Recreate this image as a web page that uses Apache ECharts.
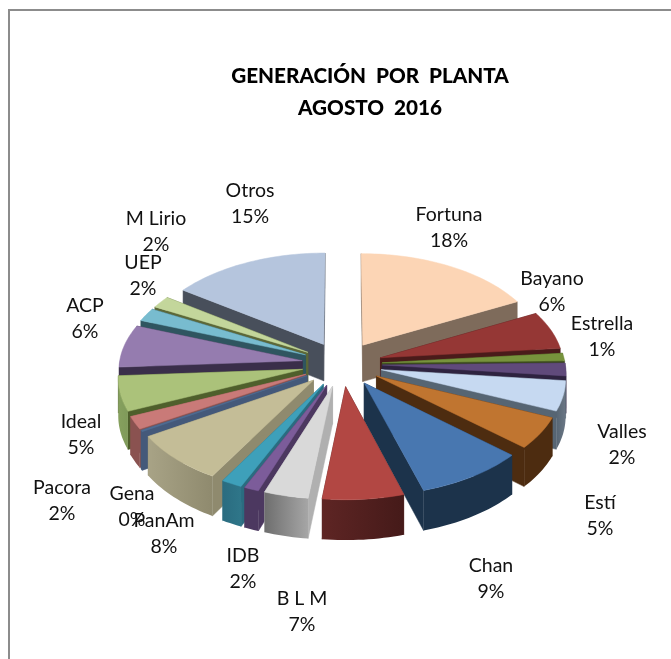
<!DOCTYPE html>
<html>
<head>
<meta charset="utf-8">
<style>html,body{margin:0;padding:0;background:#fff}#c{width:671px;height:659px}</style>
<script src="https://cdn.jsdelivr.net/npm/echarts@6/dist/echarts.min.js"></script>
</head>
<body>
<div id="c"></div>
<script>
// Data (percent share, clockwise from 12 o'clock)
const plants = ['Fortuna','Bayano','Estrella','Valles','(sin rótulo 1)','Estí','Chan','B L M','(sin rótulo 2)','IDB','(sin rótulo 3)','PanAm','Gena','Pacora','Ideal','ACP','UEP','M Lirio','Otros'];
const shares = [17.5,6,1.2,2,4.7,5,8.9,6.6,3.6,1.2,1.7,7.9,0.2,2,5.5,6.7,2.1,1.9,15.3];

const labelNames = ['Fortuna','Bayano','Estrella','Valles','Estí','Chan','B L M','IDB','PanAm','Gena','Pacora','Ideal','ACP','UEP','M Lirio','Otros'];
const labelPercents = ['18%','6%','1%','2%','5%','9%','7%','2%','8%','0%','2%','5%','6%','2%','2%','15%'];
const labelX = [449,552,602,622,600,491,302,243,164,132,62,81,85,143,156,250];
const labelY = [215,279,324,432,503,566,599,556,521,494,488,422,306,263,219,191];

const topColors = ['#FCD5B5','#953735','#77933C','#604A7B','#C6D9F1','#C07530','#4877B0','#B24743','#D9D9D9','#7C5C9A','#3EA0BA','#C4BD97','#4F6D93','#C97A78','#ABC27A','#957CAF','#78BCCF','#C3D69B','#B5C5DD'];
const edgeColors = ['#7E6B5B','#4A1B1A','#3C4A1E','#2E2340','#566573','#4D2C10','#1C334B','#511F1E','#B0B0B0','#4C3860','#2A6C80','#8F8A6E','#44597A','#8A5250','#4F5F2C','#3A2E4A','#2F5560','#5C6838','#484F5B'];
const arcLeft  = ['#7E6B5B','#5A2221','#3C4A1E','#2E2340','#566573','#4D2C10','#1C334B','#5E2524','#6E6E6E','#4C3860','#2A6C80','#A8A386','#44597A','#8A5250','#86A05E','#3A2E4A','#2F5560','#5C6838','#484F5B'];
const arcRight = ['#7E6B5B','#4A1B1A','#3C4A1E','#2E2340','#6B7785','#4D2C10','#1C334B','#451A19','#A6A6A6','#4C3860','#2F7689','#8F8A6E','#44597A','#8A5250','#7F9A5A','#3A2E4A','#2F5560','#5C6838','#484F5B'];

// Projection of the tilted pie
const cx = 342, cy = 364, rx = 183, ry = 102, persp = 0.075, depth = 37, explode = 0.22;
const RAD = Math.PI / 180;

const total = shares.reduce((a, b) => a + b, 0);
const starts = [];
shares.reduce((acc, v, i) => { starts[i] = acc; return acc + v; }, 0);

function proj(u, v, h) {
  const s = 1 + persp * v;
  return [cx + rx * u * s, cy + ry * v * s + h * s];
}

// back slices first, front slices last
const drawOrder = shares.map((_, i) => i).sort((a, b) => {
  const ma = (starts[a] + shares[a] / 2) / total * 2 * Math.PI;
  const mb = (starts[b] + shares[b] / 2) / total * 2 * Math.PI;
  return Math.cos(mb) - Math.cos(ma);
});

function renderSlice(params, api) {
  const i = api.value(0), val = api.value(1);
  const a0 = starts[i] / total * 360, a1 = (starts[i] + val) / total * 360;
  const mid = (a0 + a1) / 2 * RAD;
  const ou = explode * Math.sin(mid), ov = -explode * Math.cos(mid);
  const at = (deg, h) => proj(ou + Math.sin(deg * RAD), ov - Math.cos(deg * RAD), h);
  const apex = h => proj(ou, ov, h);
  const n = Math.max(2, Math.ceil((a1 - a0) / 1.5));
  const arcTop = [];
  for (let k = 0; k <= n; k++) arcTop.push(at(a0 + (a1 - a0) * k / n, 0));

  const children = [];
  const wall = (deg) => ({
    type: 'polygon',
    shape: { points: [apex(0), at(deg, 0), at(deg, depth), apex(depth)] },
    style: { fill: edgeColors[i], stroke: edgeColors[i], lineWidth: 0.5 }
  });
  children.push(wall(a0), wall(a1));

  const f0 = Math.max(a0, 90), f1 = Math.min(a1, 270);
  if (f1 > f0) {
    const m = Math.max(2, Math.ceil((f1 - f0) / 1.5));
    const up = [], low = [];
    for (let k = 0; k <= m; k++) {
      const d = f0 + (f1 - f0) * k / m;
      up.push(at(d, 0));
      low.unshift(at(d, depth));
    }
    children.push({
      type: 'polygon',
      shape: { points: up.concat(low) },
      style: {
        fill: { type: 'linear', x: 0, y: 0, x2: 1, y2: 0,
          colorStops: [{ offset: 0, color: arcLeft[i] }, { offset: 1, color: arcRight[i] }] }
      }
    });
  }
  children.push({
    type: 'polygon',
    shape: { points: [apex(0)].concat(arcTop) },
    style: { fill: topColors[i], stroke: topColors[i], lineWidth: 0.5 }
  });
  return { type: 'group', children };
}

const labelGraphics = labelNames.map((name, i) => ({
  type: 'text', x: labelX[i], y: labelY[i] - 13, z: 10,
  style: {
    text: name + '\n' + labelPercents[i],
    font: '19.5px Lato, "Noto Sans", sans-serif',
    fill: '#111', align: 'center', textAlign: 'center', lineHeight: 25.5
  }
}));

const chart = echarts.init(document.getElementById('c'), null, { renderer: 'canvas' });
chart.setOption({
  animation: false,
  backgroundColor: '#fff',
  title: {
    text: 'GENERACIÓN  POR  PLANTA\nAGOSTO  2016',
    left: 365, top: 55, textAlign: 'center',
    textStyle: { fontFamily: 'Lato, "Noto Sans", sans-serif', fontWeight: 900, fontSize: 20.7, lineHeight: 32, color: '#000' }
  },
  graphic: [{
    type: 'rect', z: 0,
    shape: { x: 9, y: 10, width: 800, height: 800 },
    style: { fill: 'none', stroke: '#8C8C8C', lineWidth: 2 }
  }].concat(labelGraphics),
  series: [{
    type: 'custom',
    coordinateSystem: 'none',
    renderItem: renderSlice,
    silent: true,
    data: drawOrder.map(i => [i, shares[i], plants[i]])
  }]
});
</script>
</body>
</html>
